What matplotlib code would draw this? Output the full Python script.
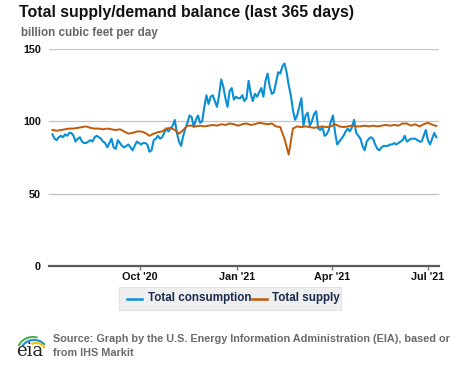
import matplotlib
matplotlib.use("Agg")
import matplotlib.pyplot as plt
import matplotlib.dates as mdates
from matplotlib.patches import Rectangle, Arc
from matplotlib.lines import Line2D
import pandas as pd

plt.rcParams['font.family'] = ['Liberation Sans', 'DejaVu Sans']

# ---------------- data ----------------
start_date = "2020-07-10"
consumption_step = "2D"   # consumption read every 2 days
supply_step = "4D"        # supply read every 4 days
consumption = [
    91, 88, 87, 89, 90, 89, 91, 90, 92, 92,
    90, 86, 88, 89, 86, 85, 85, 86, 87, 86,
    89, 90, 89, 88, 86, 85, 82, 85, 88, 82,
    81, 87, 85, 83, 82, 83, 84, 82, 80, 83,
    86, 85, 84, 85, 85, 84, 79, 80, 87, 88,
    90, 88, 89, 92, 95, 93, 95, 97, 101, 92,
    86, 83, 90, 95, 99, 104, 103, 96, 101, 104,
    99, 100, 110, 118, 112, 117, 118, 114, 110, 118,
    129, 124, 116, 110, 121, 123, 115, 117, 116, 116,
    118, 114, 116, 128, 119, 114, 119, 117, 120, 123,
    117, 128, 133, 124, 119, 120, 127, 134, 133, 138,
    140, 134, 125, 118, 108, 101, 104, 110, 116, 97,
    104, 106, 97, 100, 105, 107, 95, 94, 96, 90,
    91, 94, 100, 104, 92, 84, 86, 88, 90, 93,
    95, 93, 96, 101, 92, 90, 88, 83, 80, 86,
    88, 89, 88, 84, 81, 80, 82, 83, 83, 83,
    84, 84, 85, 84, 85, 86, 87, 90, 86, 87,
    88, 88, 88, 87, 86, 86, 90, 94, 87, 84,
    88, 92, 89,
]
supply = [
    94, 93.5, 94, 94.5, 95, 95, 95.5, 96, 96.5, 95.5,
    95, 95, 94.5, 95, 94.5, 94, 94.5, 93, 91.5, 92,
    93, 93, 92, 90, 91.5, 92.5, 93, 95, 95.5, 94,
    91.5, 94, 97, 97, 96.5, 97, 96.5, 97, 97.5, 97,
    98, 97.5, 98.5, 98, 97, 98, 98.5, 97.5, 98, 99,
    98.5, 98, 98.5, 96.5, 96, 88, 77, 95, 96.5, 96,
    96.5, 96, 95.5, 96, 96.5, 96, 96.5, 98, 96.5, 96,
    96.5, 97, 96.5, 96.5, 97, 96.5, 97, 96.5, 97, 97.5,
    97, 97.5, 97, 98.5, 98.5, 97, 98, 96.5, 98, 99,
    97.7, 96.8,
]
series_names = ["Total consumption", "Total supply"]
y_ticks = [0, 50, 100, 150]
x_tick_dates = ["2020-10-01", "2021-01-01", "2021-04-01", "2021-07-01"]
x_tick_labels = ["Oct '20", "Jan '21", "Apr '21", "Jul '21"]
x_range = ["2020-07-06 18:00", "2021-07-11 12:00"]

title = "Total supply/demand balance (last 365 days)"
subtitle = "billion cubic feet per day"
source_lines = ["Source: Graph by the U.S. Energy Information Administration (EIA), based or",
                "from IHS Markit"]

cons_dates = pd.date_range(start_date, periods=len(consumption), freq=consumption_step)
supp_dates = pd.date_range(start_date, periods=len(supply), freq=supply_step)

# ---------------- styling ----------------
BLUE = "#0a8fd6"
ORANGE = "#bf5b0a"
W, H = 477, 367

fig = plt.figure(figsize=(W / 100, H / 100), dpi=100)
fig.patch.set_facecolor("white")

left, right, top, bottom = 49, 439, 49, 266
ax = fig.add_axes([left / W, 1 - bottom / H, (right - left) / W, (bottom - top) / H])

ax.plot(cons_dates, consumption, color=BLUE, lw=1.5, solid_joinstyle="round", zorder=3)
ax.plot(supp_dates, supply, color=ORANGE, lw=1.4, solid_joinstyle="round", zorder=4)

ax.set_ylim(0, 150)
ax.set_xlim(pd.Timestamp(x_range[0]), pd.Timestamp(x_range[1]))

ax.set_yticks(y_ticks)
ax.set_yticklabels([str(v) for v in y_ticks], fontsize=7.8, fontweight="bold", color="#111111")
ax.tick_params(axis="y", length=0, pad=5.8)

ax.set_xticks([mdates.date2num(pd.Timestamp(d)) for d in x_tick_dates])
ax.set_xticklabels(x_tick_labels, fontsize=7.8, fontweight="bold", color="#111111")
ax.tick_params(axis="x", length=3.2, width=1, color="#777777", pad=1.2)

ax.yaxis.grid(True, color="#c4c4c4", lw=0.9)
ax.set_axisbelow(True)
for s in ["top", "right", "left"]:
    ax.spines[s].set_visible(False)
ax.spines["bottom"].set_color("#5a5a5a")
ax.spines["bottom"].set_linewidth(1.6)
ax.spines["bottom"].set_zorder(5)

# ---------------- texts ----------------
fig.text(19 / W, 1 - 17.3 / H, title, fontsize=11.4, fontweight="bold",
         color="#111111", va="baseline", ha="left")
fig.text(21 / W, 1 - 36 / H, subtitle, fontsize=8.4, fontweight="bold",
         color="#666666", va="baseline", ha="left")

# ---------------- legend ----------------
lx0, lx1, ly0, ly1 = 119, 341, 287, 310
fig.add_artist(Rectangle((lx0 / W, 1 - ly1 / H), (lx1 - lx0) / W, (ly1 - ly0) / H,
                         transform=fig.transFigure, facecolor="#efefef",
                         edgecolor="#e2e2e2", lw=0.8))
ly = 1 - 298.5 / H
fig.add_artist(Line2D([127 / W, 142 / W], [ly, ly], transform=fig.transFigure,
                      color=BLUE, lw=1.8))
fig.text(148 / W, ly, series_names[0], fontsize=8.4, fontweight="bold",
         color="#1b2a4e", va="center", ha="left")
fig.add_artist(Line2D([252 / W, 267 / W], [ly, ly], transform=fig.transFigure,
                      color=ORANGE, lw=1.8))
fig.text(272 / W, ly, series_names[1], fontsize=8.4, fontweight="bold",
         color="#1b2a4e", va="center", ha="left")

# ---------------- source ----------------
fig.text(53 / W, 1 - 341.7 / H, source_lines[0], fontsize=7.8, fontweight="bold",
         color="#6b6b6b", va="baseline", ha="left")
fig.text(53 / W, 1 - 355.7 / H, source_lines[1], fontsize=7.8, fontweight="bold",
         color="#6b6b6b", va="baseline", ha="left")

# ---------------- eia logo ----------------
lg = fig.add_axes([10 / W, 1 - 360 / H, 40 / W, 30 / H])
lg.set_xlim(10, 50)
lg.set_ylim(360, 330)
lg.axis("off")
lg.text(30, 355.5, "eia", fontsize=13, family="DejaVu Serif", color="#222222",
        ha="center", va="baseline")
lg.add_patch(Arc((33, 350), 30, 26, theta1=195, theta2=290, color="#4caf50", lw=1.5))
lg.add_patch(Arc((34, 351), 26, 22, theta1=200, theta2=330, color="#1e88d6", lw=1.5))
lg.add_patch(Arc((36, 352), 20, 18, theta1=240, theta2=335, color="#f2c400", lw=1.5))

fig.savefig("out.png", dpi=100, facecolor="white")
